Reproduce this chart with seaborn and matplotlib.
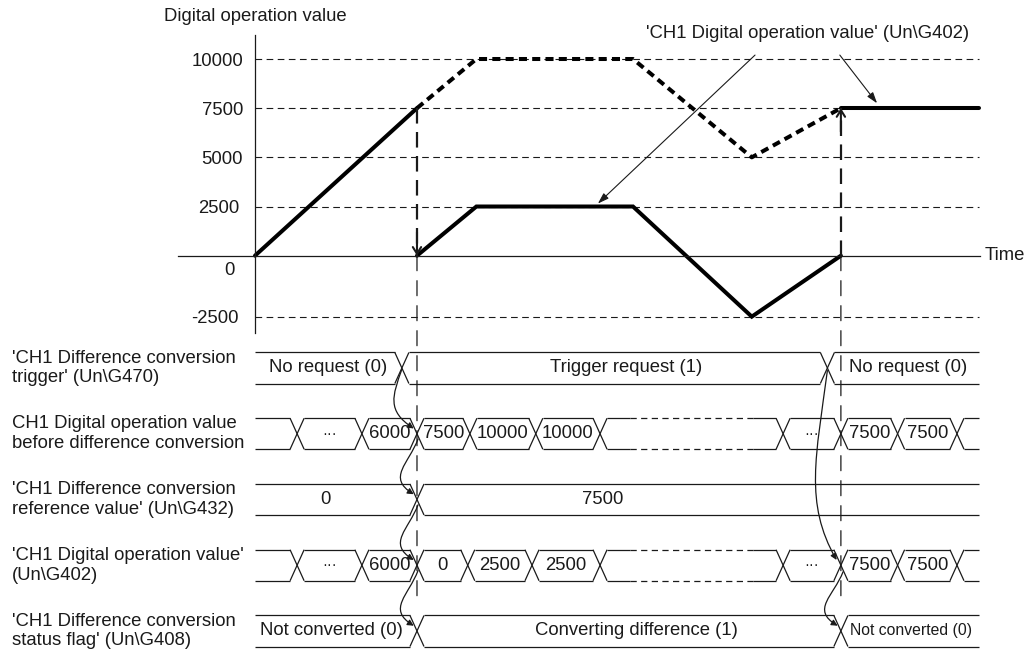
import matplotlib
matplotlib.use("Agg")
import matplotlib.pyplot as plt
from matplotlib.path import Path
from matplotlib.patches import FancyArrowPatch, ConnectionPatch
from matplotlib.transforms import ScaledTranslation
import numpy as np
import seaborn as sns
import pandas as pd

# time runs in arbitrary units; trigger is set at T_ON and cleared at T_OFF
T_ON = 3.0
T_OFF = 10.85
T_END = 13.4

# digital operation value before the trigger
RAW_T = [0, 3.0]
RAW_V = [0, 7500]
# value without difference conversion (dashed)
NODIFF_T = [3.0, 4.1, 7.0, 9.2, 10.85]
NODIFF_V = [7500, 10000, 10000, 5000, 7500]
# value while converting difference
DIFF_T = [3.0, 4.1, 7.0, 9.2, 10.85]
DIFF_V = [0, 2500, 2500, -2500, 0]
# value once the trigger is released
AFTER_T = [10.85, 13.4]
AFTER_V = [7500, 7500]

Y_TICKS = [10000, 7500, 5000, 2500, 0, -2500]
Y_GRID = [10000, 7500, 5000, 2500, -2500]

ROW_LABELS = [
    "'CH1 Difference conversion\ntrigger' (Un\\G470)",
    "CH1 Digital operation value\nbefore difference conversion",
    "'CH1 Difference conversion\nreference value' (Un\\G432)",
    "'CH1 Digital operation value'\n(Un\\G402)",
    "'CH1 Difference conversion\nstatus flag' (Un\\G408)",
]

# timing rows: crossing times, cell texts, text positions (None = cell centre)
TRIG_EDGES = [2.72, 10.6]
TRIG_TEXT = ["No request (0)", "Trigger request (1)", "No request (0)"]
TRIG_POS = [1.36, 6.87, 12.09]

BEFORE_EDGES = [0.78, 1.98, 3.0, 3.98, 5.2, 6.39, 9.78, 10.85, 11.9, 13.0]
BEFORE_TEXT = ["", "···", "6000", "7500", "10000", "10000", "", "···", "7500", "7500", ""]

REF_EDGES = [3.0]
REF_TEXT = ["0", "7500"]
REF_POS = [1.3, 6.43]

OUT_EDGES = [0.78, 1.98, 3.0, 3.94, 5.13, 6.39, 9.78, 10.85, 11.9, 13.0]
OUT_TEXT = ["", "···", "6000", "0", "2500", "2500", "", "···", "7500", "7500", ""]

FLAG_EDGES = [3.0, 10.85]
FLAG_TEXT = ["Not converted (0)", "Converting difference (1)", "Not converted (0)"]
FLAG_POS = [1.41, 7.07, 12.15]

GAP = (6.94, 9.22)   # skipped samples drawn with dashed borders

INK = "#1a1a1a"
FS = 13.3
HW = 0.13    # half width of a crossing, time units
HH = 0.236   # half height of a row, row units
NEG = 1.24   # the diagram draws the negative side a little taller

sns.set_theme(style="white")
plt.rcParams["font.family"] = ["Liberation Sans", "DejaVu Sans"]
plt.rcParams["text.color"] = INK

fig = plt.figure(figsize=(10.28, 6.54), dpi=100)
ax = fig.add_axes([0, 0, 1, 1])
ax2 = fig.add_axes([0, 0, 1, 1])
ax2.patch.set_visible(False)
ax2.axis("off")

XLIM = (-4.722, 14.315)
ax.set_xlim(*XLIM)
ax2.set_xlim(*XLIM)
ax.set_yscale("function", functions=(lambda v: np.where(v < 0, v * NEG, v),
                                     lambda y: np.where(y < 0, y / NEG, y)))
ax.set_ylim(-20252 / NEG, 13000)
ax2.set_ylim(4.35, -5.597)


def curve(t, v, dashed=False):
    df = pd.DataFrame({"t": t, "v": v})
    style = (0, (2.0, 1.3)) if dashed else "-"
    sns.lineplot(data=df, x="t", y="v", ax=ax, color="black", lw=2.9,
                 sort=False, estimator=None, linestyle=style,
                 solid_joinstyle="miter", dash_capstyle="butt")


# ---- top panel ----
ax.hlines(Y_GRID, 0, T_END, colors=INK, lw=0.8, linestyles=[(0, (6, 4))])

curve(RAW_T, RAW_V)
curve(NODIFF_T, NODIFF_V, dashed=True)
curve(DIFF_T, DIFF_V)
curve(AFTER_T, AFTER_V)
ax.set_xlabel("")
ax.set_ylabel("")
ax.set_ylim(-20252 / NEG, 13000)

# trigger set: value drops to 0, trigger cleared: value jumps back
ax.plot([T_ON, T_ON], [RAW_V[-1], DIFF_V[0]], color=INK, lw=1.6,
        linestyle=(0, (7, 3.8)), dash_capstyle="butt")
ax.plot([T_OFF, T_OFF], [DIFF_V[-1], AFTER_V[0]], color=INK, lw=1.6,
        linestyle=(0, (7, 3.8)), dash_capstyle="butt")
for x0, y0, y1 in [(T_ON, 1200, DIFF_V[0]), (T_OFF, AFTER_V[0] - 1200, AFTER_V[0])]:
    ax.annotate("", xy=(x0, y1), xytext=(x0, y0),
                arrowprops=dict(arrowstyle="->,head_length=0.4,head_width=0.25",
                                color=INK, lw=1.5, shrinkA=0, shrinkB=0))

# axes through the origin
for side in ["top", "right"]:
    ax.spines[side].set_visible(False)
ax.spines["left"].set_position(("data", 0))
ax.spines["left"].set_bounds(-3930 / NEG, 11220)
ax.spines["bottom"].set_position(("data", 0))
ax.spines["bottom"].set_bounds(-1.43, 13.43)
for side in ["left", "bottom"]:
    ax.spines[side].set_color(INK)
    ax.spines[side].set_linewidth(0.9)
ax.set_xticks([])
ax.set_yticks(Y_TICKS)
ax.set_yticklabels([str(v) for v in Y_TICKS])
ax.tick_params(axis="y", length=0, pad=8.6, labelsize=FS, labelcolor=INK)
for lab in ax.get_yticklabels():
    if lab.get_text() == "0":
        lab.set_transform(lab.get_transform() + ScaledTranslation(-0.08, -0.13, fig.dpi_scale_trans))
    elif lab.get_text() in ("2500", "-2500"):
        lab.set_transform(lab.get_transform() + ScaledTranslation(-0.04, 0, fig.dpi_scale_trans))

ax.text(0, 12150, "Digital operation value", ha="center", va="center", fontsize=FS)
ax.text(13.52, 0, "Time", ha="left", va="center", fontsize=FS)

ax.text(10.24, 11320, "'CH1 Digital operation value' (Un\\G402)", ha="center",
        va="center", fontsize=FS)
for start, tip in [((9.26, 10200), (6.35, 2650)), ((10.83, 10200), (11.52, 7750))]:
    ax.annotate("", xy=tip, xytext=start,
                arrowprops=dict(arrowstyle="-|>,head_length=0.55,head_width=0.18",
                                color=INK, lw=0.8, shrinkA=0, shrinkB=0))

# dashed guides continue down through the timing rows
for t in [T_ON, T_OFF]:
    con = ConnectionPatch(xyA=(t, 0), coordsA=ax.transData,
                          xyB=(t, 3.55), coordsB=ax2.transData,
                          color=INK, lw=0.9, linestyle=(0, (12, 8)))
    ax2.add_artist(con)


# ---- timing rows ----
def draw_row(r, edges, texts, pos=None, gap=None, small_last=False):
    bounds = [0] + list(edges) + [T_END]
    top, bot = r - HH, r + HH
    kw = dict(color=INK, lw=0.9, solid_capstyle="butt")
    for i in range(len(bounds) - 1):
        a = bounds[i] + (HW if i > 0 else 0)
        b = bounds[i + 1] - (HW if i < len(bounds) - 2 else 0)
        for y in (top, bot):
            if gap is not None and a < gap[0] and gap[1] < b:
                ax2.plot([a, gap[0]], [y, y], **kw)
                ax2.plot([gap[0], gap[1]], [y, y], color=INK, lw=0.9,
                         linestyle=(0, (5, 3.5)))
                ax2.plot([gap[1], b], [y, y], **kw)
            else:
                ax2.plot([a, b], [y, y], **kw)
    for e in edges:
        ax2.plot([e - HW, e + HW], [top, bot], **kw)
        ax2.plot([e - HW, e + HW], [bot, top], **kw)
    if pos is None:
        pos = [(bounds[i] + bounds[i + 1]) / 2 for i in range(len(bounds) - 1)]
    for i, (x, s) in enumerate(zip(pos, texts)):
        fs = FS * 0.85 if (small_last and i == len(texts) - 1) else FS
        if s == "···":
            fs = FS * 0.8
        ax2.text(x, r, s, ha="center", va="center", fontsize=fs)


draw_row(0, TRIG_EDGES, TRIG_TEXT, TRIG_POS)
draw_row(1, BEFORE_EDGES, BEFORE_TEXT, gap=GAP)
draw_row(2, REF_EDGES, REF_TEXT, REF_POS)
draw_row(3, OUT_EDGES, OUT_TEXT, gap=GAP)
draw_row(4, FLAG_EDGES, FLAG_TEXT, FLAG_POS, small_last=True)

for r, lab in enumerate(ROW_LABELS):
    ax2.text(-4.5, r, lab, ha="left", va="center", fontsize=FS, linespacing=1.2)


# wavy cause -> effect arrows between the rows
def wavy(p0, p1, bulge):
    (x0, y0), (x1, y1) = p0, p1
    dy = y1 - y0
    verts = [(x0, y0), (x0 - 0.35 * bulge, y0 + 0.45 * dy),
             (x1 - bulge, y1 - 0.3 * dy), (x1, y1)]
    path = Path(verts, [Path.MOVETO, Path.CURVE4, Path.CURVE4, Path.CURVE4])
    arr = FancyArrowPatch(path=path, arrowstyle="-|>", mutation_scale=9,
                          color=INK, lw=0.9, transform=ax2.transData)
    ax2.add_patch(arr)


wavy((TRIG_EDGES[0], 0.02), (T_ON - 0.06, 0.92), 0.5)
for r in range(1, 4):
    wavy((T_ON + 0.02, r + 0.08), (T_ON - 0.06, r + 0.92), 0.5)
wavy((TRIG_EDGES[1], 0.04), (T_OFF - 0.08, 2.92), 0.6)
wavy((T_OFF + 0.04, 3.1), (T_OFF - 0.06, 3.92), 0.5)

fig.savefig("out.png", dpi=100)
